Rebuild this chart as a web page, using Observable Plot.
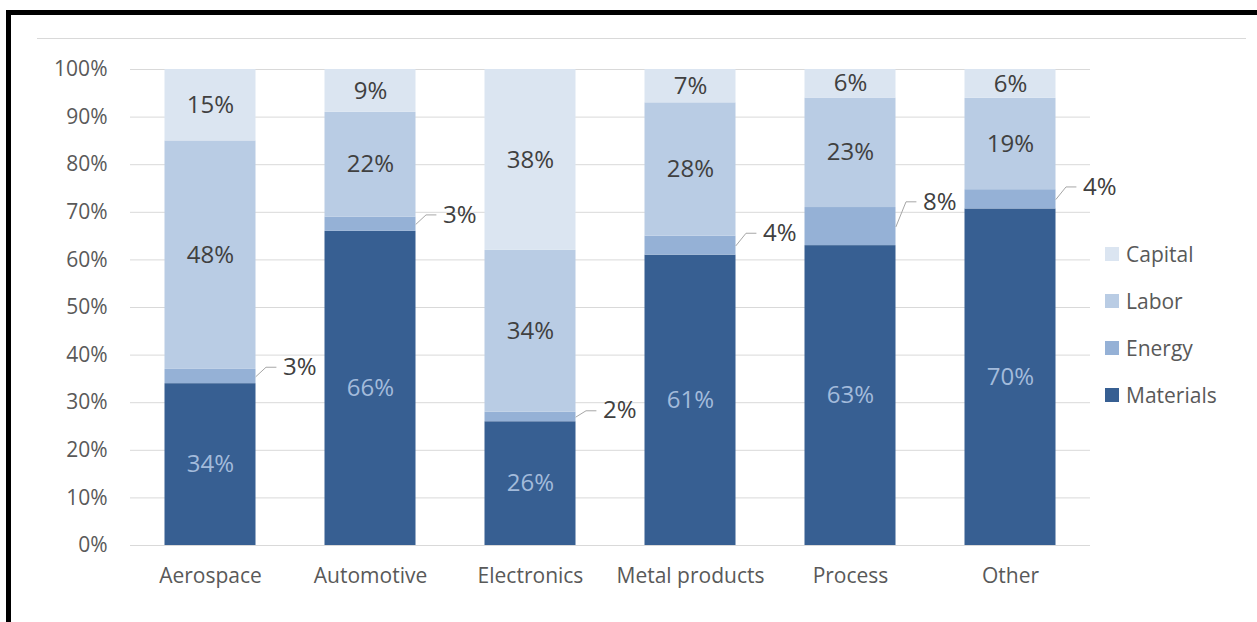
<!DOCTYPE html>
<html>
<head>
<meta charset="utf-8">
<script src="https://cdn.jsdelivr.net/npm/d3@7"></script>
<script src="https://cdn.jsdelivr.net/npm/@observablehq/plot@0.6"></script>
<style>
  html, body { margin: 0; padding: 0; background: #fff; }
  body { width: 1257px; height: 622px; overflow: hidden; position: relative; font-family: "Open Sans", sans-serif; }
  #frameTop { position: absolute; left: 6px; top: 10px; width: 1251px; height: 5px; background: #000; }
  #frameLeft { position: absolute; left: 6px; top: 10px; width: 5px; height: 612px; background: #000; }
  #rule { position: absolute; left: 37px; top: 38px; width: 1209px; height: 1px; background: #d9d9d9; }
  #chart { position: absolute; left: 0; top: 0; }
  #legend { position: absolute; left: 1105px; top: 230px; }
  .item { display: flex; align-items: center; height: 47px; font-size: 21px; color: #595959; }
  .sw { width: 14px; height: 14px; margin-right: 7px; }
</style>
</head>
<body>
<div id="frameTop"></div>
<div id="frameLeft"></div>
<div id="rule"></div>
<div id="chart"></div>
<div id="legend"></div>
<script>
const categories = ["Aerospace", "Automotive", "Electronics", "Metal products", "Process", "Other"];
const materials = [34, 66, 26, 61, 63, 70];
const energy = [3, 3, 2, 4, 8, 4];
const labor = [48, 22, 34, 28, 23, 19];
const capital = [15, 9, 38, 7, 6, 6];
const seriesNames = ["Materials", "Energy", "Labor", "Capital"];
const legendOrder = ["Capital", "Labor", "Energy", "Materials"];
const yTicks = [0, 10, 20, 30, 40, 50, 60, 70, 80, 90, 100];

const colors = { Materials: "#375f92", Energy: "#95b1d6", Labor: "#b9cce4", Capital: "#dbe5f1" };
const labelColors = { Materials: "#a3bbdb", Energy: "#404040", Labor: "#404040", Capital: "#404040" };
const seriesValues = { Materials: materials, Energy: energy, Labor: labor, Capital: capital };

const hw = 91 / 160 / 2;  // half bar width in band units

const rows = [];
categories.forEach((c, i) => {
  const total = seriesNames.reduce((s, k) => s + seriesValues[k][i], 0);
  let cum = 0;
  seriesNames.forEach(k => {
    const v = seriesValues[k][i];
    rows.push({ i, category: c, series: k, value: v, y1: cum / total * 100, y2: (cum + v) / total * 100 });
    cum += v;
  });
});

const energyRows = rows.filter(d => d.series === "Energy").map(d => {
  const mid = (d.y1 + d.y2) / 2;
  return { ...d, mid, labelY: mid + 0.65 * d.value };
});
const leaderPts = [];
energyRows.forEach(d => {
  leaderPts.push({ i: d.i, x: d.i + hw, y: d.mid });
  leaderPts.push({ i: d.i, x: d.i + hw + 0.0625, y: d.labelY });
  leaderPts.push({ i: d.i, x: d.i + hw + 0.125, y: d.labelY });
});
const inside = rows.filter(d => d.series !== "Energy");

const chart = Plot.plot({
  width: 1257,
  height: 622,
  marginLeft: 130,
  marginRight: 167,
  marginTop: 69,
  marginBottom: 77,
  style: { fontFamily: "Open Sans, sans-serif", fontSize: "21px", color: "#595959", background: "transparent" },
  x: { domain: [-0.5, 5.5] },
  y: { domain: [0, 100] },
  marks: [
    Plot.ruleY(yTicks, { stroke: "#d9d9d9", strokeWidth: 1 }),
    Plot.rect(rows, { x1: d => d.i - hw, x2: d => d.i + hw, y1: "y1", y2: "y2", fill: d => colors[d.series] }),
    Plot.axisY({ ticks: yTicks, tickFormat: d => d + "%", tickSize: 0, tickPadding: 23, label: null, fill: "#595959" }),
    Plot.axisX({ ticks: d3.range(categories.length), tickFormat: i => categories[i], tickSize: 0, tickPadding: 23, label: null, fill: "#595959" }),
    Plot.text(inside, { x: "i", y: d => (d.y1 + d.y2) / 2, text: d => d.value + "%", fill: d => labelColors[d.series], fontSize: 24 }),
    Plot.line(leaderPts, { x: "x", y: "y", z: "i", stroke: "#a6a6a6", strokeWidth: 1 }),
    Plot.text(energyRows, { x: d => d.i + hw, y: "labelY", dx: 27, text: d => d.value + "%", textAnchor: "start", fill: "#404040", fontSize: 24 })
  ]
});
document.getElementById("chart").appendChild(chart);

const legend = document.getElementById("legend");
legendOrder.forEach(k => {
  const item = document.createElement("div");
  item.className = "item";
  const sw = document.createElement("div");
  sw.className = "sw";
  sw.style.background = colors[k];
  const t = document.createElement("span");
  t.textContent = k;
  item.appendChild(sw);
  item.appendChild(t);
  legend.appendChild(item);
});
</script>
</body>
</html>
